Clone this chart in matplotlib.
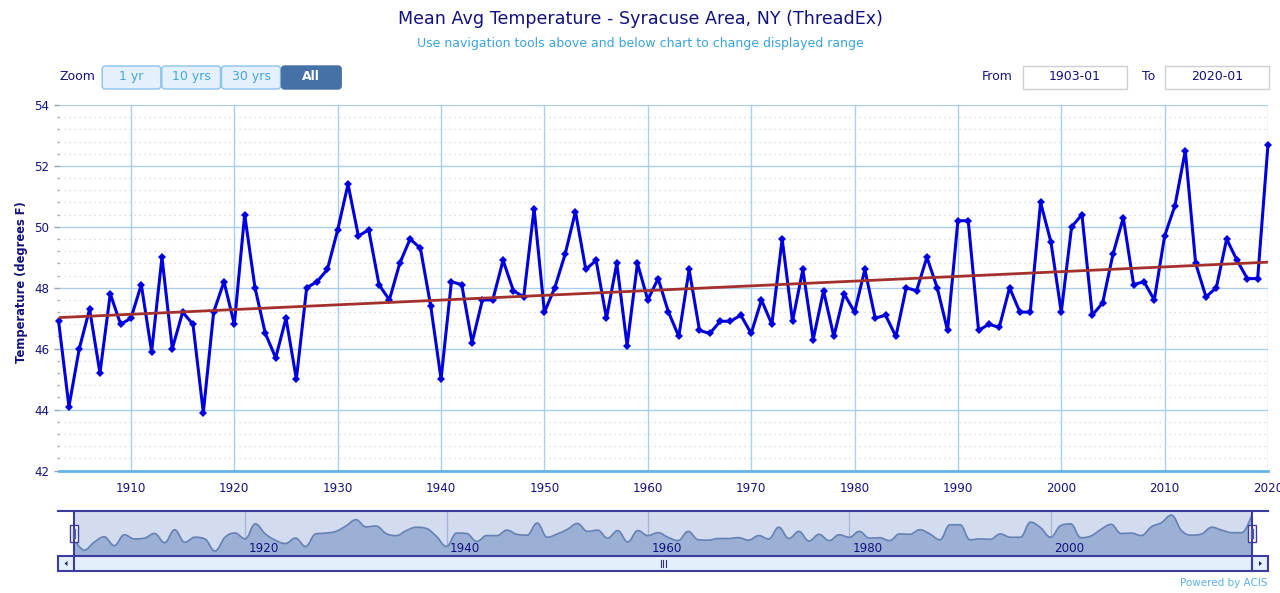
import numpy as np
import matplotlib
matplotlib.use('Agg')
import matplotlib.pyplot as plt
from matplotlib.path import Path
from matplotlib.patches import PathPatch, Rectangle, FancyBboxPatch, Polygon

plt.rcParams['font.family'] = ['DejaVu Sans']

# ---------------- data ----------------
years = list(range(1903, 2021))
temps = [46.9, 44.1, 46.0, 47.3, 45.2, 47.8, 46.8, 47.0, 48.1, 45.9,   # 1903-1912
         49.0, 46.0, 47.2, 46.8, 43.9, 47.2, 48.2, 46.8, 50.4, 48.0,   # 1913-1922
         46.5, 45.7, 47.0, 45.0, 48.0, 48.2, 48.6, 49.9, 51.4, 49.7,   # 1923-1932
         49.9, 48.1, 47.6, 48.8, 49.6, 49.3, 47.4, 45.0, 48.2, 48.1,   # 1933-1942
         46.2, 47.6, 47.6, 48.9, 47.9, 47.7, 50.6, 47.2, 48.0, 49.1,   # 1943-1952
         50.5, 48.6, 48.9, 47.0, 48.8, 46.1, 48.8, 47.6, 48.3, 47.2,   # 1953-1962
         46.4, 48.6, 46.6, 46.5, 46.9, 46.9, 47.1, 46.5, 47.6, 46.8,   # 1963-1972
         49.6, 46.9, 48.6, 46.3, 47.9, 46.4, 47.8, 47.2, 48.6, 47.0,   # 1973-1982
         47.1, 46.4, 48.0, 47.9, 49.0, 48.0, 46.6, 50.2, 50.2, 46.6,   # 1983-1992
         46.8, 46.7, 48.0, 47.2, 47.2, 50.8, 49.5, 47.2, 50.0, 50.4,   # 1993-2002
         47.1, 47.5, 49.1, 50.3, 48.1, 48.2, 47.6, 49.7, 50.7, 52.5,   # 2003-2012
         48.8, 47.7, 48.0, 49.6, 48.9, 48.3, 48.3, 52.7]               # 2013-2020
trend_years = [1903, 2020]
trend_vals = [47.02, 48.84]

y_ticks = [42, 44, 46, 48, 50, 52, 54]
x_ticks = list(range(1910, 2021, 10))
nav_ticks = [1920, 1940, 1960, 1980, 2000]
zoom_buttons = ['1 yr', '10 yrs', '30 yrs', 'All']
title = 'Mean Avg Temperature - Syracuse Area, NY (ThreadEx)'
subtitle = 'Use navigation tools above and below chart to change displayed range'
from_label, to_label = '1903-01', '2020-01'

# ---------------- figure ----------------
W, H = 1280, 593
fig = plt.figure(figsize=(W / 100, H / 100), dpi=100)

def px_axes(x0, y0, x1, y1, **kw):
    return fig.add_axes([x0 / W, 1 - y1 / H, (x1 - x0) / W, (y1 - y0) / H], **kw)

NAVY = '#12127c'
GRID = '#a9cfee'

# main plot
ax = px_axes(58.6, 105, 1268, 470.5)
ax.set_xlim(1903, 2020)
ax.set_ylim(42, 54)
for s in ['top', 'right', 'left']:
    ax.spines[s].set_visible(False)
ax.spines['bottom'].set_color('#63b4e8')
ax.spines['bottom'].set_linewidth(2)
ax.set_yticks(y_ticks)
minor = [round(42 + 0.4 * k, 1) for k in range(31) if k % 5 != 0]
ax.set_yticks(minor, minor=True)
ax.set_xticks(x_ticks)
ax.grid(which='major', axis='both', color=GRID, lw=1, zorder=0)
ax.grid(which='minor', axis='y', color='#ccd4de', lw=0.9, linestyle=(0, (1, 3)), zorder=0)
ax.tick_params(axis='x', length=0, pad=8, labelsize=8.6, labelcolor=NAVY)
ax.tick_params(axis='y', which='major', length=3.5, width=1, color='#a0a0a0',
               pad=3, labelsize=8.6, labelcolor=NAVY)
ax.tick_params(axis='y', which='minor', length=1.5, width=1, color='#a0a0a0')
ax.set_axisbelow(True)

ax.plot(years, temps, color='#0000dd', lw=2.2, marker='D', ms=3.6, mew=0,
        zorder=4, clip_on=False)
ax.plot(trend_years, trend_vals, color='#a3302c', lw=2, zorder=5)

# ---------------- navigator ----------------
nav = px_axes(74, 511, 1252, 556)
nav.set_xlim(1903, 2020)
nav.set_ylim(42.7, 53.5)
nav.set_facecolor('#d3dcef')
for s in nav.spines.values():
    s.set_visible(False)
nav.set_xticks(nav_ticks)
nav.set_yticks([])
nav.tick_params(axis='x', length=0, labelbottom=False)
nav.grid(axis='x', color='#a9b6d6', lw=1)
for t in nav_ticks:
    nav.text(t + 0.35, 44.6, f'{t}', color=NAVY, fontsize=8.6, ha='left', va='center', zorder=6)

def spline(xs, ys, smoothing=1.5):
    n = len(xs)
    lc = [(xs[i], ys[i]) for i in range(n)]
    rc = [(xs[i], ys[i]) for i in range(n)]
    d = smoothing + 1
    for i in range(1, n - 1):
        x0, y0 = xs[i - 1], ys[i - 1]
        x, y = xs[i], ys[i]
        x1, y1 = xs[i + 1], ys[i + 1]
        lcx, lcy = (smoothing * x + x0) / d, (smoothing * y + y0) / d
        rcx, rcy = (smoothing * x + x1) / d, (smoothing * y + y1) / d
        corr = ((rcy - lcy) * (rcx - x)) / (rcx - lcx) + y - rcy
        lcy += corr
        rcy += corr
        if lcy > y0 and lcy > y:
            lcy = max(y0, y); rcy = 2 * y - lcy
        elif lcy < y0 and lcy < y:
            lcy = min(y0, y); rcy = 2 * y - lcy
        if rcy > y1 and rcy > y:
            rcy = max(y1, y); lcy = 2 * y - rcy
        elif rcy < y1 and rcy < y:
            rcy = min(y1, y); lcy = 2 * y - rcy
        lc[i] = (lcx, lcy)
        rc[i] = (rcx, rcy)
    verts = [(xs[0], ys[0])]
    codes = [Path.MOVETO]
    for i in range(1, n):
        verts += [rc[i - 1], lc[i], (xs[i], ys[i])]
        codes += [Path.CURVE4] * 3
    return verts, codes

v, c = spline(years, temps)
area_v = v + [(years[-1], 42.0), (years[0], 42.0), v[0]]
area_c = c + [Path.LINETO, Path.LINETO, Path.CLOSEPOLY]
nav.add_patch(PathPatch(Path(area_v, area_c), facecolor='#9cb0d6', edgecolor='none', zorder=2))
nav.add_patch(PathPatch(Path(v, c), facecolor='none', edgecolor='#6681b4', lw=1.2, zorder=3))

# ---------------- UI overlay ----------------
ui = fig.add_axes([0, 0, 1, 1], zorder=10)
ui.set_xlim(0, W)
ui.set_ylim(H, 0)
ui.axis('off')

ui.text(640, 19, title, ha='center', va='center', fontsize=12.6, color=NAVY)
ui.text(640, 44, subtitle, ha='center', va='center', fontsize=9.0, color='#3aa3da')
ui.text(22, 282, 'Temperature (degrees F)', rotation=90, ha='center', va='center',
        fontsize=8.3, fontweight='bold', color=NAVY)

# zoom buttons
ui.text(77, 77, 'Zoom', ha='center', va='center', fontsize=9, color=NAVY)
bx = [101.7, 161.3, 221, 281, 341.7]
for i, lab in enumerate(zoom_buttons):
    sel = lab == 'All'
    ui.add_patch(FancyBboxPatch((bx[i] + 0.5, 66), bx[i + 1] - bx[i] - 1, 23,
                                boxstyle='round,pad=0,rounding_size=3',
                                facecolor='#4571a7' if sel else '#e4f1fc',
                                edgecolor='#4571a7' if sel else '#8bc3ea', lw=1))
    ui.text((bx[i] + bx[i + 1]) / 2, 76.5, lab, ha='center', va='center', fontsize=9,
            color='white' if sel else '#45a6da', fontweight='bold' if sel else 'normal')

# from / to boxes
ui.text(997, 77, 'From', ha='center', va='center', fontsize=9, color=NAVY)
ui.text(1149, 77, 'To', ha='center', va='center', fontsize=9, color=NAVY)
for x0, lab in [(1022.7, from_label), (1165, to_label)]:
    ui.add_patch(Rectangle((x0, 66), 104, 23, facecolor='white', edgecolor='#cfcfcf', lw=1))
    ui.text(x0 + 52, 77, lab, ha='center', va='center', fontsize=9, color=NAVY)

# navigator outline, handles, scrollbar
OUT = '#3c3ca0'
ui.plot([58, 1268], [511, 511], color=OUT, lw=1.5)
ui.plot([74, 74], [511, 556], color=OUT, lw=1.5)
ui.plot([1252, 1252], [511, 556], color=OUT, lw=1.5)
for hx in [74, 1252]:
    ui.add_patch(Rectangle((hx - 4, 525), 8, 17, facecolor='white', edgecolor=OUT, lw=1))
    ui.plot([hx - 1.2, hx - 1.2], [529, 538], color='#5060a8', lw=1)
    ui.plot([hx + 1.2, hx + 1.2], [529, 538], color='#5060a8', lw=1)

ui.add_patch(Rectangle((58, 556), 1210, 15, facecolor='#e3effb', edgecolor=OUT, lw=1.5))
ui.plot([74, 74], [556, 571], color=OUT, lw=1.5)
ui.plot([1252, 1252], [556, 571], color=OUT, lw=1.5)
ui.add_patch(Polygon([[64.5, 563.5], [67.5, 561], [67.5, 566]], closed=True,
                     facecolor='#222244', edgecolor='none'))
ui.add_patch(Polygon([[1262, 563.5], [1259, 561], [1259, 566]], closed=True,
                     facecolor='#222244', edgecolor='none'))
for gx in [660.5, 663, 665.5]:
    ui.plot([gx, gx], [560, 567], color='#333366', lw=0.8)

ui.text(1268, 583, 'Powered by ACIS', ha='right', va='center', fontsize=7.5, color='#5cb0e2')

fig.savefig('out.png', dpi=100)
